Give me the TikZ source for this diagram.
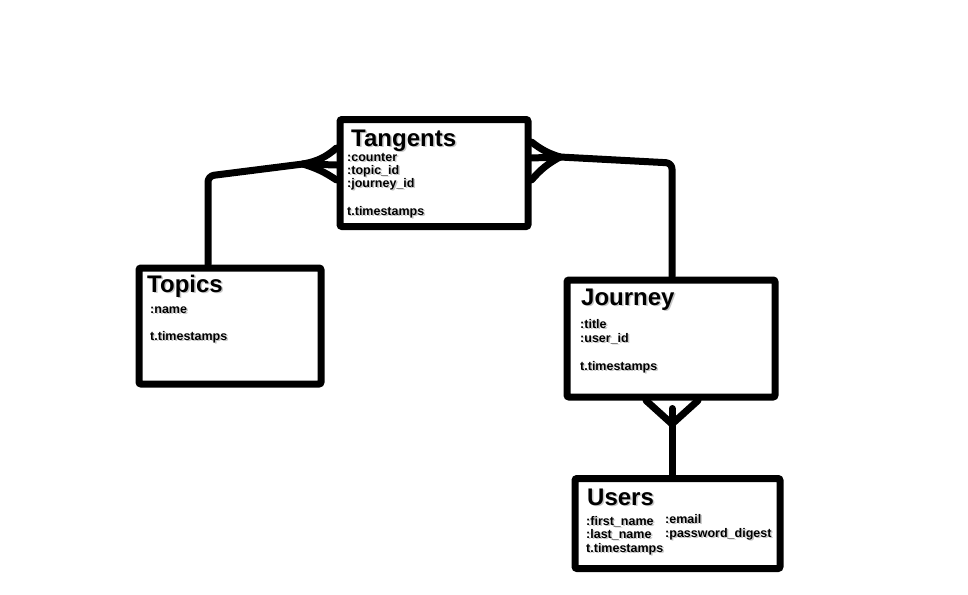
\documentclass[tikz,border=0pt]{standalone}
\usepackage{fontspec}
\setmainfont{Liberation Sans}
\usetikzlibrary{positioning, calc}
\newcommand{\shadowtxt}[1]{\makebox[0pt][l]{\hspace{1.5pt}\raisebox{-1.5pt}{\textcolor{black!22}{#1}}}#1}

\begin{document}
\begin{tikzpicture}[x=1pt, y=-1pt,
  entity/.style={draw, line width=7pt, rounded corners=2pt, inner sep=0pt},
  heading/.style={anchor=base west, inner sep=0pt, font=\fontsize{24}{24}\selectfont\bfseries},
  field/.style={anchor=base west, inner sep=0pt, font=\fontsize{12.5}{12.5}\selectfont\bfseries},
  link/.style={line width=7pt, line cap=round, line join=round}
]
\useasboundingbox (0,0) rectangle (968,594);

% entities
\node[entity, minimum width=188pt, minimum height=107pt] (tangents) at (434,173) {};
\node[entity, minimum width=182pt, minimum height=116pt] (topics) at (230,326) {};
\node[entity, minimum width=208pt, minimum height=117pt] (journey) at (671,338.5) {};
\node[entity, minimum width=205pt, minimum height=90pt] (users) at (677.5,523.5) {};

% tangents
\node[heading] (tangents-title) at (351,146) {\shadowtxt{Tangents}};
\foreach \txt/\yy [count=\i] in {:counter/161, :topic\_id/174, :journey\_id/187, t.timestamps/215}
  \node[field] (tangents-f\i) at (347,\yy) {\shadowtxt{\txt}};

% topics
\node[heading] (topics-title) at (147,292) {\shadowtxt{Topics}};
\foreach \txt/\yy [count=\i] in {:name/313, t.timestamps/340}
  \node[field] (topics-f\i) at (150,\yy) {\shadowtxt{\txt}};

% journey
\node[heading] (journey-title) at (581,305) {\shadowtxt{Journey}};
\foreach \txt/\yy [count=\i] in {:title/328, :user\_id/342, t.timestamps/370}
  \node[field] (journey-f\i) at (580,\yy) {\shadowtxt{\txt}};

% users
\node[heading] (users-title) at (587,505) {\shadowtxt{Users}};
\foreach \txt/\yy [count=\i] in {:first\_name/525, :last\_name/538, t.timestamps/552}
  \node[field] (users-f\i) at (586,\yy) {\shadowtxt{\txt}};
\foreach \txt/\yy [count=\i] in {:email/523, :password\_digest/537}
  \node[field] (users-g\i) at (665,\yy) {\shadowtxt{\txt}};

% topics -- tangents (many)
\coordinate (topbend) at (208,176);
\coordinate (topjoin) at (303,164);
\draw[link, rounded corners=6pt] ([xshift=-22pt]topics.north) -- (topbend) -- (topjoin);
\draw[link] (topjoin) to[bend right=15] ([yshift=25pt]tangents.west);
\draw[link] (topjoin) -- ([yshift=8pt]tangents.west);
\draw[link] (topjoin) to[bend left=8] ([yshift=-7pt]tangents.west);

% tangents -- journey (many)
\coordinate (jourjoin) at (560,157);
\coordinate (jourbend) at (672,163);
\draw[link, rounded corners=6pt] (jourjoin) -- (jourbend) -- ([xshift=1pt]journey.north);
\draw[link] (jourjoin) to[bend left=10] ([yshift=31pt]tangents.east);
\draw[link] (jourjoin) -- ([yshift=15pt]tangents.east);
\draw[link] (jourjoin) to[bend right=10] ([yshift=-7pt]tangents.east);

% users -- journey (many)
\coordinate (userjoin) at (672,424);
\draw[link] ([xshift=1pt,yshift=-8pt]journey.south) -- ([xshift=-5.5pt]users.north);
\draw[link] ([xshift=-25pt]journey.south) -- (userjoin) -- ([xshift=27pt]journey.south);
\end{tikzpicture}
\end{document}
